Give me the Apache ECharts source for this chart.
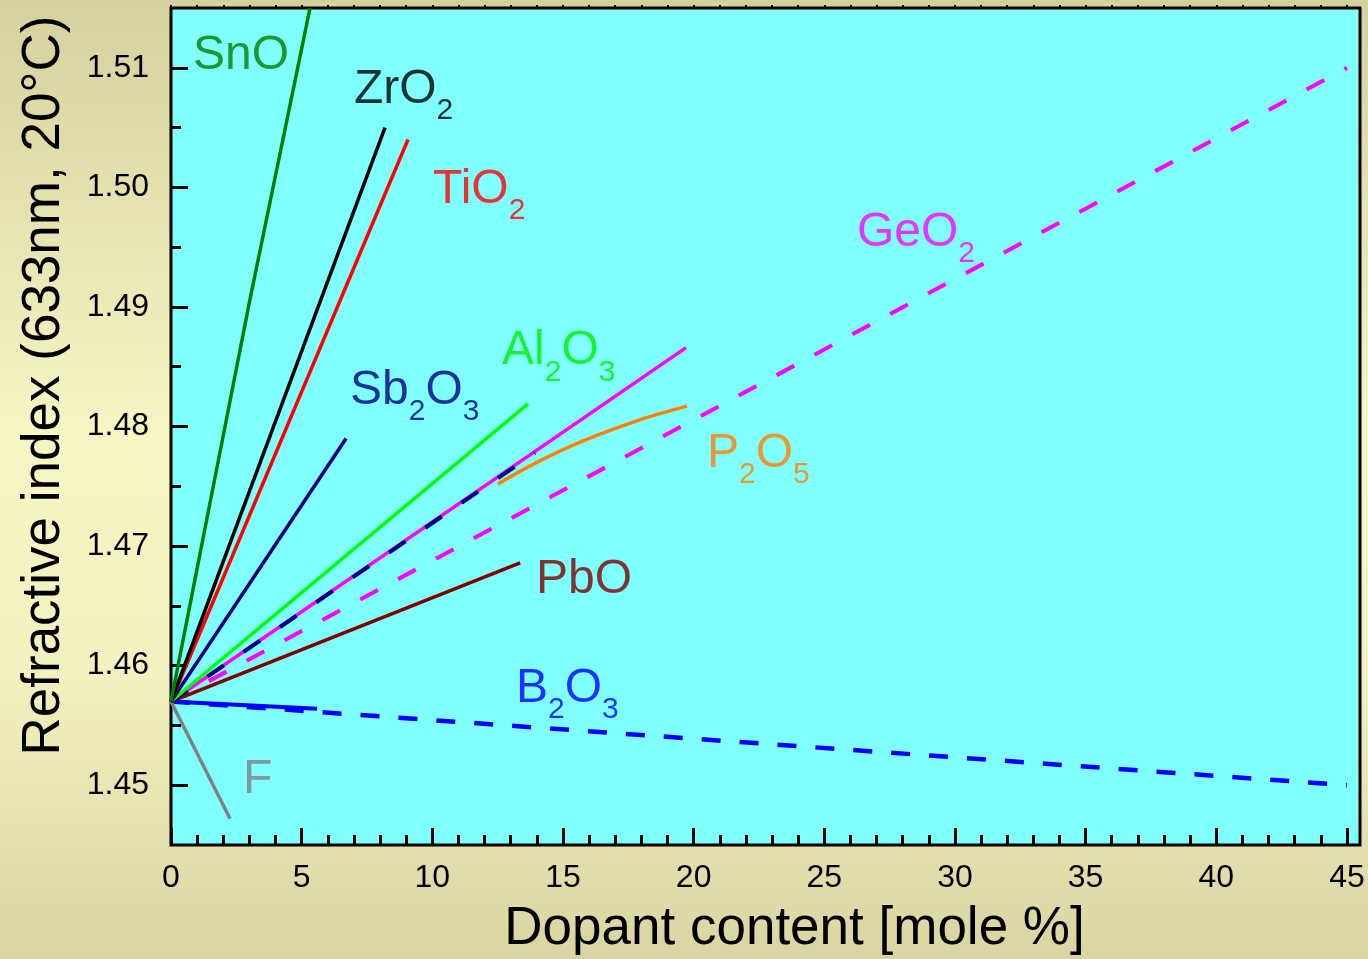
<!DOCTYPE html>
<html>
<head>
<meta charset="utf-8">
<script src="https://cdn.jsdelivr.net/npm/echarts@6/dist/echarts.min.js"></script>
<style>
html,body{margin:0;padding:0;}
#c{width:1368px;height:959px;}
</style>
</head>
<body>
<div id="c"></div>
<script>
// ---- tick labels ----
const xTicks = [0, 5, 10, 15, 20, 25, 30, 35, 40, 45];
const yTicks = [1.45, 1.46, 1.47, 1.48, 1.49, 1.50, 1.51];

// ---- series values [mole %, refractive index] ----
const snO        = [[0, 1.457], [3.02, 1.4906], [5.32, 1.515]];
const zrO2       = [[0, 1.457], [8.19, 1.505]];
const tiO2       = [[0, 1.457], [9.07, 1.504]];
const sb2O3      = [[0, 1.457], [6.70, 1.479]];
const al2O3      = [[0, 1.457], [13.66, 1.4819]];
const geO2Solid  = [[0, 1.457], [19.71, 1.4866]];
const geO2Dashed = [[0, 1.457], [45, 1.510]];
const navyDashed = [[0, 1.457], [13.93, 1.4778]];
const p2O5       = [[12.51, 1.4752], [14.0, 1.4770], [15.77, 1.4788], [18.0, 1.4806], [19.75, 1.4817]];
const pbO        = [[0, 1.457], [13.36, 1.4686]];
const b2O3Solid  = [[0, 1.457], [5.59, 1.4564]];
const b2O3Dashed = [[0, 1.457], [45, 1.450]];
const fLine      = [[0, 1.457], [2.26, 1.4472]];

// ---- curve labels: name, anchor (data coords), colour ----
const labelNames  = ['SnO', 'ZrO2', 'TiO2', 'GeO2', 'Al2O3', 'Sb2O3', 'P2O5', 'PbO', 'B2O3', 'F'];
const labelPos    = [[0.84, 1.5130], [7.00, 1.5102], [10.03, 1.5018], [26.25, 1.4982], [12.67, 1.4883],
                     [6.85, 1.4850], [20.51, 1.4797], [13.97, 1.4692], [13.20, 1.4601], [2.76, 1.4525]];
const labelColors = ['#008000', '#000000', '#ff0000', '#ff00ff', '#00ee00', '#000080', '#ff8000', '#800000', '#0000ff', '#808080'];

const FONT = '"Liberation Sans", Arial, Helvetica, sans-serif';

function richName(s) {
  return s.replace(/([A-Za-z]+)|(\d+)/g, (m, a, d) => a ? '{m|' + a + '}' : '{s|' + d + '}');
}

// minor tick positions
const xMinor = [];
for (let i = 0; i <= 45; i++) if (i % 5 !== 0) xMinor.push(i);
const xAll = [];
for (let i = 0; i <= 45; i++) xAll.push(i);
const yMinor = yTicks.slice(0, -1).map(v => +(v + 0.005).toFixed(3));
const yAll = yTicks.concat(yMinor).sort((a, b) => a - b);

const chart = echarts.init(document.getElementById('c'), null, {renderer: 'canvas'});

function lineSeries(name, data, color, width, dash, smooth) {
  return {
    name: name, type: 'line', data: data, xAxisIndex: 0, yAxisIndex: 0,
    showSymbol: false, symbol: 'none', smooth: smooth || false, clip: true, silent: true,
    lineStyle: {color: color, width: width, type: dash || 'solid', cap: 'butt'},
    animation: false
  };
}

const YMIN = 1.445, YMAX = 1.515, XMIN = 0, XMAX = 45.5;

const option = {
  animation: false,
  backgroundColor: {
    type: 'linear', x: 0, y: 0, x2: 0, y2: 1,
    colorStops: [
      {offset: 0, color: '#d5d19e'},
      {offset: 0.45, color: '#f6f5c4'},
      {offset: 0.7, color: '#f3f1bf'},
      {offset: 1, color: '#d9d5a2'}
    ]
  },
  grid: {
    left: 171, top: 8, right: 8, bottom: 114, containLabel: false, outerBoundsMode: 'none',
    show: true, backgroundColor: '#80ffff', borderColor: '#000', borderWidth: 3
  },
  xAxis: [
    {
      type: 'value', position: 'bottom', min: XMIN, max: XMAX,
      axisLine: {show: false}, splitLine: {show: false},
      axisTick: {show: true, inside: true, length: 17, lineStyle: {color: '#000', width: 3}, customValues: xTicks},
      axisLabel: {show: true, customValues: xTicks, fontSize: 32, color: '#000', fontFamily: FONT, margin: 17},
      name: 'Dopant content [mole %]', nameLocation: 'middle', nameGap: 58,
      nameTextStyle: {fontSize: 53, color: '#000', fontFamily: FONT, padding: [0, 0, 0, 58]}
    },
    {
      type: 'value', position: 'bottom', min: XMIN, max: XMAX,
      axisLine: {show: false}, splitLine: {show: false},
      axisTick: {show: true, inside: true, length: 10, lineStyle: {color: '#000', width: 3}, customValues: xMinor},
      axisLabel: {show: false}
    },
    {
      type: 'value', position: 'top', min: XMIN, max: XMAX,
      axisLine: {show: false}, splitLine: {show: false},
      axisTick: {show: true, inside: false, length: 3, lineStyle: {color: '#000', width: 2}, customValues: xAll},
      axisLabel: {show: false}
    }
  ],
  yAxis: [
    {
      type: 'value', position: 'left', min: YMIN, max: YMAX,
      axisLine: {show: false}, splitLine: {show: false},
      axisTick: {show: true, inside: true, length: 17, lineStyle: {color: '#000', width: 3}, customValues: yTicks},
      axisLabel: {show: true, customValues: yTicks, fontSize: 32, color: '#000', fontFamily: FONT, margin: 22,
                  formatter: v => v.toFixed(2)},
      name: 'Refractive index (633nm, 20\u00b0C)', nameLocation: 'middle', nameGap: 100, nameRotate: 90,
      nameTextStyle: {fontSize: 53, color: '#000', fontFamily: FONT, padding: [0, 0, 0, 82]}
    },
    {
      type: 'value', position: 'left', min: YMIN, max: YMAX,
      axisLine: {show: false}, splitLine: {show: false},
      axisTick: {show: true, inside: true, length: 10, lineStyle: {color: '#000', width: 3}, customValues: yMinor},
      axisLabel: {show: false}
    },
    {
      type: 'value', position: 'right', min: YMIN, max: YMAX,
      axisLine: {show: false}, splitLine: {show: false},
      axisTick: {show: true, inside: false, length: 3, lineStyle: {color: '#000', width: 2}, customValues: yAll},
      axisLabel: {show: false}
    }
  ],
  series: [
    lineSeries('GeO2 (dashed)', geO2Dashed, '#ff00ff', 4, [20, 23]),
    lineSeries('B2O3 (dashed)', b2O3Dashed, '#0000ff', 4.5, [19, 19]),
    lineSeries('B2O3', b2O3Solid, '#0000ff', 4),
    lineSeries('F', fLine, '#808080', 3.5),
    lineSeries('PbO', pbO, '#800000', 3.5),
    lineSeries('GeO2', geO2Solid, '#ff00ff', 3.5),
    lineSeries('GeO2 (ref)', navyDashed, '#000080', 4, [20, 24]),
    lineSeries('P2O5', p2O5, '#ff8000', 3.5, null, 0.3),
    lineSeries('Al2O3', al2O3, '#00ff00', 3.5),
    lineSeries('Sb2O3', sb2O3, '#000080', 3.5),
    lineSeries('TiO2', tiO2, '#ff0000', 3.5),
    lineSeries('ZrO2', zrO2, '#000000', 3.5),
    lineSeries('SnO', snO, '#008000', 3.5),
    {
      name: 'labels', type: 'scatter', xAxisIndex: 0, yAxisIndex: 0,
      symbolSize: 0, silent: true, z: 10, clip: false,
      data: labelNames.map((n, i) => ({
        value: labelPos[i],
        label: {
          show: true, position: 'inside', align: 'left', verticalAlign: 'top',
          formatter: richName(n), color: labelColors[i], fontFamily: FONT,
          rich: {
            m: {fontSize: 48, lineHeight: 48, verticalAlign: 'top', color: labelColors[i], fontFamily: FONT},
            s: {fontSize: 30, lineHeight: 30, verticalAlign: 'top', padding: [30, 0, 0, 0], color: labelColors[i], fontFamily: FONT}
          }
        }
      }))
    }
  ]
};
chart.setOption(option);
</script>
</body>
</html>
